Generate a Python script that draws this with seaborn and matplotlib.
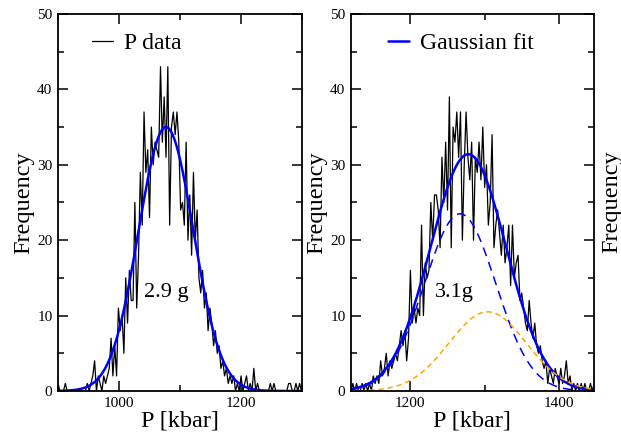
import numpy as np
import pandas as pd
import matplotlib
matplotlib.use('Agg')
import matplotlib.pyplot as plt
import seaborn as sns
from matplotlib.ticker import MultipleLocator

sns.set_style('ticks')
plt.rcParams['font.family'] = ['Liberation Serif', 'DejaVu Serif']
plt.rcParams['xtick.direction'] = 'in'
plt.rcParams['ytick.direction'] = 'in'
for k in ['axes.edgecolor', 'xtick.color', 'ytick.color', 'text.color', 'axes.labelcolor']:
    plt.rcParams[k] = 'black'

# histogram of P, left panel (2.9 g), bins of 3 kbar starting at 900
left_start = 900
left_bin = 3
left_counts = [1, 0, 0, 0, 1, 0, 0, 0, 0, 0, 0, 0, 0, 0, 0, 0, 1, 0, 1, 2,
               4, 0, 2, 1, 0, 2, 1, 2, 3, 7, 2, 6, 2, 11, 8, 10, 5, 15, 9, 16,
               12, 12, 25, 11, 18, 29, 22, 37, 29, 32, 23, 35, 30, 33, 32, 31, 43, 33, 39, 31,
               43, 22, 35, 37, 34, 37, 33, 24, 25, 22, 33, 20, 26, 18, 29, 20, 24, 15, 13, 16,
               11, 13, 8, 11, 9, 6, 8, 5, 6, 3, 4, 2, 3, 1, 2, 1, 2, 0, 1, 0,
               2, 0, 1, 2, 0, 1, 0, 3, 0, 1, 0, 0, 0, 0, 0, 0, 1, 0, 1, 0,
               0, 0, 0, 0, 0, 0, 1, 1, 0, 0, 1, 0, 1, 0]

# histogram of P, right panel (3.1 g), bins of 2.5 kbar starting at 1120
right_start = 1120
right_bin = 2.5
right_counts = [0, 1, 0, 1, 0, 0, 1, 0, 1, 0, 1, 0, 2, 1, 2, 1, 4, 2, 3, 5,
                2, 4, 3, 4, 5, 4, 6, 8, 6, 8, 4, 7, 16, 9, 11, 9, 11, 10, 22, 10,
                17, 15, 16, 25, 20, 26, 26, 24, 19, 31, 25, 33, 24, 39, 19, 35, 33, 37, 31, 37,
                20, 30, 37, 31, 28, 33, 20, 31, 29, 33, 28, 35, 27, 30, 22, 25, 34, 19, 22, 24,
                21, 18, 22, 17, 19, 22, 14, 22, 15, 17, 18, 12, 13, 11, 9, 8, 12, 9, 7, 9,
                6, 5, 6, 4, 3, 4, 1, 3, 2, 1, 3, 2, 1, 3, 1, 2, 4, 1, 2, 0,
                1, 0, 1, 0, 1, 0, 1, 0, 0, 1, 0, 1]

# gaussian fit parameters: amplitude, centre, sigma
fit_left = (35.0, 1077, 45)
fit_right = (31.4, 1278, 51)
comp_low = (23.5, 1267, 48)
comp_high = (10.5, 1304, 52)


def gauss(x, a, mu, s):
    return a * np.exp(-(x - mu) ** 2 / (2 * s ** 2))


def style_axes(ax, xlim, xmajor):
    ax.set_xlim(*xlim)
    ax.set_ylim(0, 50)
    ax.xaxis.set_major_locator(MultipleLocator(xmajor))
    ax.xaxis.set_minor_locator(MultipleLocator(xmajor / 2))
    ax.yaxis.set_major_locator(MultipleLocator(10))
    ax.yaxis.set_minor_locator(MultipleLocator(5))
    ax.tick_params(which='both', top=True, right=True, labelsize=11, width=1.1)
    ax.tick_params(which='major', length=7, pad=4)
    ax.tick_params(which='minor', length=4.3)
    for sp in ax.spines.values():
        sp.set_linewidth(1.3)
    ax.set_xlabel('P [kbar]', fontsize=17.5, labelpad=1)
    ax.set_ylabel('Frequency', fontsize=17.5, labelpad=2)


fig = plt.figure(figsize=(6.21, 4.34), dpi=100)
ax1 = fig.add_axes([0.0934, 0.0991, 0.393, 0.8687])
ax2 = fig.add_axes([0.5652, 0.0991, 0.391, 0.8687])

df_left = pd.DataFrame({'P': left_start + left_bin * np.arange(len(left_counts)),
                        'freq': left_counts})
df_right = pd.DataFrame({'P': right_start + right_bin * np.arange(len(right_counts)),
                         'freq': right_counts})

# left panel
sns.lineplot(data=df_left, x='P', y='freq', ax=ax1, color='black', lw=0.9, label='P data')
xs = np.linspace(900, 1300, 400)
sns.lineplot(x=xs, y=gauss(xs, *fit_left), ax=ax1, color='blue', lw=1.8)
style_axes(ax1, (900, 1300), 200)
ax1.legend(frameon=False, loc='center left', bbox_to_anchor=(0.139, 0.922),
           borderaxespad=0, borderpad=0, handlelength=0.9, handletextpad=0.45, fontsize=17)
ax1.text(1078, 13, '2.9 g', fontsize=16, ha='center', va='center')

# right panel
sns.lineplot(data=df_right, x='P', y='freq', ax=ax2, color='black', lw=0.9)
xs2 = np.linspace(1120, 1450, 400)
sns.lineplot(x=xs2, y=gauss(xs2, *fit_right), ax=ax2, color='blue', lw=1.8, label='Gaussian fit')
ax2.plot(xs2, gauss(xs2, *comp_low), color='blue', lw=1.1, ls=(0, (6, 4)))
ax2.plot(xs2, gauss(xs2, *comp_high), color='orange', lw=1.1, ls=(0, (3.5, 2.5)))
style_axes(ax2, (1120, 1447), 200)
ax2.legend(frameon=False, loc='center left', bbox_to_anchor=(0.152, 0.922),
           borderaxespad=0, borderpad=0, handlelength=0.9, handletextpad=0.45, fontsize=17)
ax2.text(1259, 13, '3.1g', fontsize=16, ha='center', va='center')

# y label of a third panel cut off at the right edge
fig.text(0.968, 0.535, 'Frequency', rotation=90, fontsize=17.5, ha='left', va='center')

fig.savefig('out.png', dpi=100)
